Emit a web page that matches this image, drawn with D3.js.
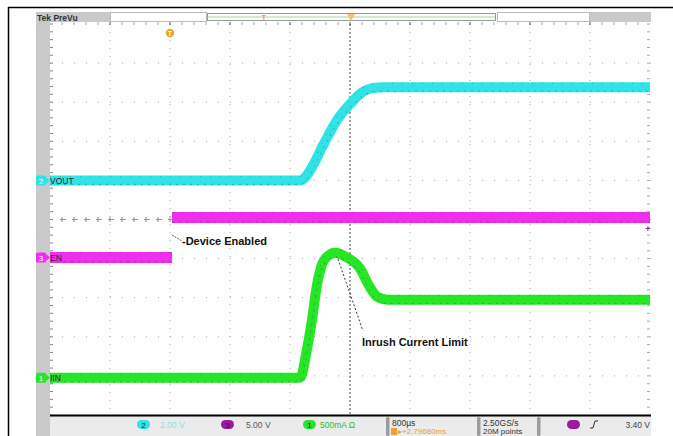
<!DOCTYPE html>
<html>
<head>
<meta charset="utf-8">
<script src="https://cdnjs.cloudflare.com/ajax/libs/d3/7.8.5/d3.min.js"></script>
<style>
body { margin: 0; background: #fff; }
svg text { font-family: "Liberation Sans", Arial, sans-serif; }
</style>
</head>
<body>
<div class="scopeCont"></div>
<script>
// Screen constants (10 x 10 divisions, 800us/div)
const w = 673;
const h = 436;
const pLeft = 50, pRight = 651, pTop = 24, pBottom = 415;

// Trace samples: time in ms from trigger
const voutT = [-4, -0.667, -0.587, -0.493, -0.36, -0.173, 0, 0.16, 0.293, 0.467, 4];
const voutV = [0, 0, 0.2, 0.77, 1.79, 3.08, 3.9, 4.5, 4.72, 4.77, 4.77];
const enT = [-4, -2.373, -2.373, 4];
const enV = [0, 0, 5.1, 5.1];
const iinT = [-4, -0.667, -0.64, -0.6, -0.507, -0.44, -0.373, -0.293, -0.2, -0.04, 0.133, 0.253, 0.373, 0.5, 4];
const iinA = [0, 0, 0.04, 0.23, 0.74, 1.19, 1.45, 1.56, 1.60, 1.54, 1.40, 1.18, 1.03, 1.0, 1.0];

// Channel labels and settings
const chanNames = ["VOUT", "EN", "IIN"];
const chanNums = ["2", "3", "1"];
const chanScales = ["2.00 V", "5.00 V", "500mA \u03a9"];
const chanPerDiv = [2, 5, 0.5];
const chanOffset = [1.0, -0.97, -4.05];
const chanColors = ["#30e3e6", "#ee30ee", "#27e627"];
const timeBase = "800\u00b5s";
const delayText = "\u25b8+2.79680ms";
const sampleRate = "2.50GS/s";
const recordLen = "20M points";
const trigLevel = "3.40 V";

// Annotations
const notes = ["-Device Enabled", "Inrush Current Limit"];

const svg = d3.select(".scopeCont").append("svg")
	.attr("width", w)
	.attr("height", h);

// Scales
const xScale = d3.scaleLinear().domain([-4, 4]).range([pLeft, pRight - 1]);
const yDiv = d3.scaleLinear().domain([-5, 5]).range([pBottom, pTop]);
const yChan = (c) => (v) => yDiv(chanOffset[c] + v / chanPerDiv[c]);

// Outer frame
svg.append("line").attr("x1", 8).attr("x2", w).attr("y1", 7.5).attr("y2", 7.5)
	.attr("stroke", "#000").attr("stroke-width", 1.5);
svg.append("line").attr("x1", 8.5).attr("x2", 8.5).attr("y1", 7).attr("y2", h)
	.attr("stroke", "#000").attr("stroke-width", 1.5);

// Left grey strip and header
svg.append("rect").attr("x", 36).attr("y", 12).attr("width", 14).attr("height", h - 12).attr("fill", "#c9c9c9");
svg.append("rect").attr("x", 36).attr("y", 12).attr("width", 74).attr("height", 10).attr("fill", "#c9c9c9");
svg.append("text").attr("x", 37).attr("y", 20.5).attr("font-size", "8.5px").attr("font-weight", "bold")
	.attr("fill", "#333").text("Tek PreVu");
svg.append("rect").attr("x", 110.5).attr("y", 12.5).attr("width", 96).attr("height", 9)
	.attr("fill", "#fff").attr("stroke", "#bbb");
svg.append("rect").attr("x", 207.5).attr("y", 13.5).attr("width", 288).attr("height", 7)
	.attr("fill", "#fbfdf8").attr("stroke", "#9a9a9a");
svg.append("line").attr("x1", 208).attr("x2", 495).attr("y1", 17).attr("y2", 17)
	.attr("stroke", "#b9d3a6").attr("stroke-width", 1);
svg.append("rect").attr("x", 497.5).attr("y", 12.5).attr("width", 92).attr("height", 9)
	.attr("fill", "#fff").attr("stroke", "#bbb");
svg.append("rect").attr("x", 590).attr("y", 12).attr("width", 61).attr("height", 10).attr("fill", "#c9c9c9");
// record position marker
svg.append("text").attr("x", 264).attr("y", 20).attr("text-anchor", "middle")
	.attr("font-size", "7px").attr("font-weight", "bold").attr("fill", "#e9a12c").text("T");
svg.append("path").attr("d", "M347,14 L355,14 L351,21 Z").attr("fill", "#f3c46a");

// Graticule
const grid = svg.append("g").attr("class", "grid");
d3.range(1, 10).forEach((k) => {
	const x = pLeft + k * 60;
	grid.append("line").attr("x1", x).attr("x2", x).attr("y1", pTop).attr("y2", pBottom)
		.attr("stroke", "#a8a8a8").attr("stroke-dasharray", "1,7");
});
d3.range(-4, 5).forEach((k) => {
	if (k === 0) return;
	grid.append("line").attr("x1", pLeft).attr("x2", pRight).attr("y1", yDiv(k)).attr("y2", yDiv(k))
		.attr("stroke", "#a8a8a8").attr("stroke-dasharray", "1,11");
});
// edge minor ticks
d3.range(-25, 26).forEach((k) => {
	const y = yDiv(k / 5);
	grid.append("line").attr("x1", pLeft).attr("x2", pLeft + 3).attr("y1", y).attr("y2", y).attr("stroke", "#888");
	grid.append("line").attr("x1", pRight - 4).attr("x2", pRight - 1).attr("y1", y).attr("y2", y).attr("stroke", "#aaa");
});
d3.range(1, 50).forEach((k) => {
	const x = pLeft + k * 12;
	grid.append("line").attr("x1", x).attr("x2", x).attr("y1", pTop - 2).attr("y2", pTop + 1)
		.attr("stroke", k % 5 === 0 ? "#555" : "#aaa");
});
// center horizontal line with crosses
grid.append("line").attr("x1", pLeft + 10).attr("x2", pRight).attr("y1", yDiv(0)).attr("y2", yDiv(0))
	.attr("stroke", "#999").attr("stroke-dasharray", "6,6");
d3.range(1, 50).forEach((k) => {
	const x = pLeft + k * 12;
	grid.append("line").attr("x1", x).attr("x2", x).attr("y1", yDiv(0) - 2.5).attr("y2", yDiv(0) + 2.5)
		.attr("stroke", "#888");
});
// center vertical (trigger) line
grid.append("line").attr("x1", xScale(0)).attr("x2", xScale(0)).attr("y1", pTop).attr("y2", pBottom)
	.attr("stroke", "#555").attr("stroke-dasharray", "2,2");

// Traces (a repeated time means a jump: the scope draws no vertical band there)
const traces = [
	{ t: voutT, v: voutV, c: 0, width: 10, curve: d3.curveMonotoneX },
	{ t: enT, v: enV, c: 1, width: 11, curve: d3.curveLinear },
	{ t: iinT, v: iinA, c: 2, width: 10, curve: d3.curveMonotoneX }
];
traces.forEach((tr) => {
	const ys = yChan(tr.c);
	const segs = [[]];
	tr.t.forEach((t, i) => {
		if (i > 0 && t === tr.t[i - 1]) segs.push([]);
		segs[segs.length - 1].push([xScale(t), ys(tr.v[i])]);
	});
	const line = d3.line().curve(tr.curve);
	segs.forEach((pts) => {
		svg.append("path")
			.attr("d", line(pts))
			.attr("fill", "none")
			.attr("stroke", chanColors[tr.c])
			.attr("stroke-width", tr.width)
			.attr("stroke-linejoin", "round");
		// darker dotted edges of the noise band
		[-(tr.width / 2 - 1), tr.width / 2 - 1].forEach((off, j) => {
			svg.append("path")
				.attr("d", line(pts))
				.attr("transform", "translate(0," + off + ")")
				.attr("fill", "none")
				.attr("stroke", d3.color(chanColors[tr.c]).darker(1.3))
				.attr("stroke-width", 1)
				.attr("stroke-dasharray", j ? "2,5" : "1,9")
				.attr("opacity", 0.6);
		});
	});
});

// Channel ground labels at the left
chanNames.forEach((name, c) => {
	const y = yChan(c)(0);
	svg.append("rect").attr("x", 36).attr("y", y - 5).attr("width", 10).attr("height", 10).attr("rx", 1.5)
		.attr("fill", chanColors[c]);
	svg.append("text").attr("x", 41).attr("y", y + 3.5).attr("text-anchor", "middle")
		.attr("font-size", "8px").attr("fill", "#fff").text(chanNums[c]);
	svg.append("path").attr("d", `M46,${y - 3.5} L50,${y} L46,${y + 3.5} Z`).attr("fill", chanColors[c]);
	svg.append("text").attr("x", 50).attr("y", y + 3.5)
		.attr("font-size", "8.5px").attr("fill", "#223").text(name);
});

// Trigger marker and trigger level
svg.append("circle").attr("cx", 170).attr("cy", 33).attr("r", 4.2).attr("fill", "#f0a030");
svg.append("text").attr("x", 170).attr("y", 36).attr("text-anchor", "middle")
	.attr("font-size", "7px").attr("font-weight", "bold").attr("fill", "#fff").text("T");
svg.append("text").attr("x", 648).attr("y", 232).attr("text-anchor", "middle")
	.attr("font-size", "9px").attr("font-weight", "bold").attr("fill", "#b020b0").text("+");

// Annotations
svg.append("line").attr("x1", 172).attr("y1", 235).attr("x2", 182).attr("y2", 241)
	.attr("stroke", "#333").attr("stroke-width", 0.8).attr("stroke-dasharray", "2,1");
svg.append("text").attr("x", 182).attr("y", 245).attr("font-size", "11px").attr("font-weight", "bold")
	.attr("fill", "#111").text(notes[0]);
svg.append("line").attr("x1", 338).attr("y1", 259).attr("x2", 363).attr("y2", 331)
	.attr("stroke", "#222").attr("stroke-width", 0.9).attr("stroke-dasharray", "2,2");
svg.append("text").attr("x", 362).attr("y", 346).attr("font-size", "11px").attr("font-weight", "bold")
	.attr("fill", "#111").text(notes[1]);

// Status bar
svg.append("rect").attr("x", 50).attr("y", 416).attr("width", pRight - 50).attr("height", 20).attr("fill", "#ebebeb");
svg.append("line").attr("x1", 50).attr("x2", pRight).attr("y1", 415.5).attr("y2", 415.5)
	.attr("stroke", "#000").attr("stroke-width", 2);
const pillX = [137, 221, 303];
const textX = [160, 246, 320];
const textCol = ["#7fe3ea", "#555", "#27c027"];
chanScales.forEach((s, c) => {
	svg.append("rect").attr("x", pillX[c]).attr("y", 420).attr("width", 13).attr("height", 9).attr("rx", 4.5)
		.attr("fill", c === 1 ? "#9a1aa0" : chanColors[c]);
	svg.append("text").attr("x", pillX[c] + 6.5).attr("y", 427.5).attr("text-anchor", "middle")
		.attr("font-size", "8px").attr("fill", "#222").text(chanNums[c]);
	svg.append("text").attr("x", textX[c]).attr("y", 428).attr("font-size", "8.5px")
		.attr("fill", textCol[c]).text(s);
});
// separators
[386, 477, 537].forEach((x) => {
	svg.append("rect").attr("x", x).attr("y", 417).attr("width", 3.5).attr("height", 19).attr("rx", 1.5).attr("fill", "#9c9c9c");
});
svg.append("text").attr("x", 392).attr("y", 426).attr("font-size", "8.5px").attr("fill", "#333").text(timeBase);
svg.append("rect").attr("x", 391).attr("y", 428).attr("width", 6).attr("height", 7).attr("fill", "#f0a030");
svg.append("text").attr("x", 398).attr("y", 434).attr("font-size", "8px").attr("fill", "#e9a12c").text(delayText);
svg.append("text").attr("x", 483).attr("y", 426).attr("font-size", "8.5px").attr("fill", "#333").text(sampleRate);
svg.append("text").attr("x", 483).attr("y", 434).attr("font-size", "8px").attr("fill", "#333").text(recordLen);
svg.append("rect").attr("x", 567).attr("y", 420).attr("width", 13).attr("height", 9).attr("rx", 4.5).attr("fill", "#9a1aa0");
svg.append("path").attr("d", "M590,428 L593,428 L595,421 L598,421").attr("fill", "none").attr("stroke", "#333").attr("stroke-width", 1);
svg.append("text").attr("x", 650).attr("y", 428).attr("text-anchor", "end").attr("font-size", "8.5px")
	.attr("fill", "#444").text(trigLevel);
</script>
</body>
</html>
